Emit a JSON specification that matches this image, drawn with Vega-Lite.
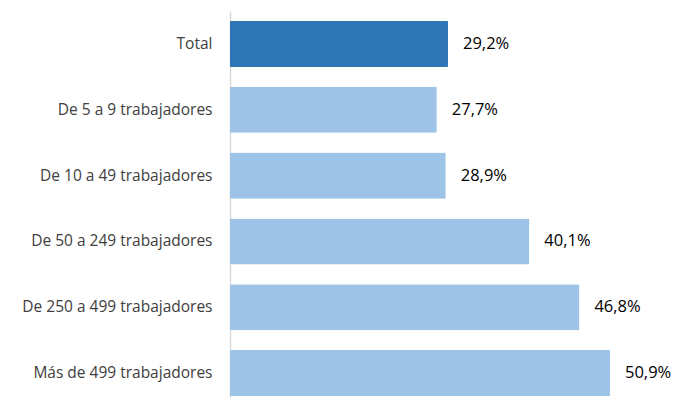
{
  "$schema": "https://vega.github.io/schema/vega-lite/v6.json",
  "width": 410.6,
  "height": 395,
  "autosize": {"type": "none"},
  "padding": {"left": 230, "top": 11, "right": 32.4, "bottom": 0},
  "background": "white",
  "config": {"view": {"stroke": null}, "font": "Open Sans"},
  "data": {"values": [
    {"cat": "Total", "val": 29.2, "label": "29,2%", "total": true},
    {"cat": "De 5 a 9 trabajadores", "val": 27.7, "label": "27,7%", "total": false},
    {"cat": "De 10 a 49 trabajadores", "val": 28.9, "label": "28,9%", "total": false},
    {"cat": "De 50 a 249 trabajadores", "val": 40.1, "label": "40,1%", "total": false},
    {"cat": "De 250 a 499 trabajadores", "val": 46.8, "label": "46,8%", "total": false},
    {"cat": "Más de 499 trabajadores", "val": 50.9, "label": "50,9%", "total": false}
  ]},
  "encoding": {
    "y": {"field": "cat", "type": "nominal", "sort": null,
      "scale": {"paddingInner": 0.3, "paddingOuter": 0.15},
      "axis": {"title": null, "ticks": false, "domainColor": "#d9d9d9", "domainWidth": 1.5, "labelFontSize": 15.5, "labelFontWeight": "normal", "labelColor": "#404040", "labelPadding": 18, "labelFont": "Open Sans", "labelLimit": 300}},
    "x": {"field": "val", "type": "quantitative", "scale": {"domain": [0, 55]}, "axis": null}
  },
  "layer": [
    {"mark": {"type": "bar", "cornerRadius": 1},
     "encoding": {"color": {"field": "total", "type": "nominal", "scale": {"domain": [true, false], "range": ["#2E75B6", "#9DC3E6"]}, "legend": null}}},
    {"mark": {"type": "text", "align": "left", "dx": 15, "fontSize": 16.5, "color": "#000000"},
     "encoding": {"text": {"field": "label"}}}
  ]
}
